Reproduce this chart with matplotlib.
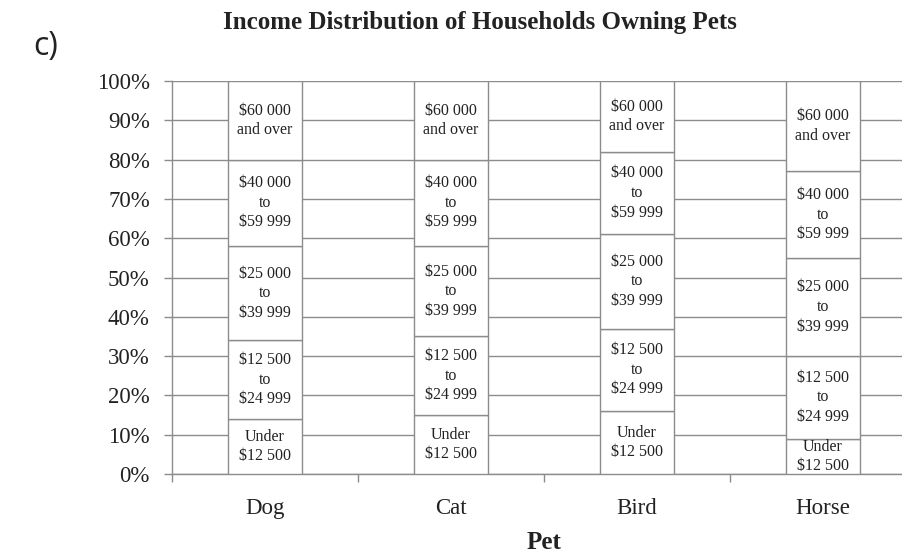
import numpy as np
import matplotlib
matplotlib.use('Agg')
import matplotlib.pyplot as plt

pets = ['Dog', 'Cat', 'Bird', 'Horse']
brackets = ['Under\n$12 500', '$12 500\nto\n$24 999', '$25 000\nto\n$39 999',
            '$40 000\nto\n$59 999', '$60 000\nand over']
# percent of households in each income bracket (bottom to top)
under_12500 = [14, 15, 16, 9]
from_12500 = [20, 20, 21, 21]
from_25000 = [24, 23, 24, 25]
from_40000 = [22, 22, 21, 22]
over_60000 = [20, 20, 18, 23]
series = [under_12500, from_12500, from_25000, from_40000, over_60000]
yticks = [0, 10, 20, 30, 40, 50, 60, 70, 80, 90, 100]

plt.rcParams['font.family'] = ['Liberation Serif', 'DejaVu Serif']
grey = '#8c8c8c'
txt = '#222222'

fig = plt.figure(figsize=(9.03, 5.59), dpi=100)
ax = fig.add_axes([172 / 903, 1 - 474 / 559, 744 / 903, 393 / 559])

x = np.arange(len(pets)) + 0.5
bottom = np.zeros(len(pets))
for vals, lab in zip(series, brackets):
    vals = np.array(vals, dtype=float)
    ax.bar(x, vals, bottom=bottom, width=0.40, color='white',
           edgecolor=grey, linewidth=1.0, zorder=3)
    for xi, b, v in zip(x, bottom, vals):
        ax.text(xi, b + v / 2, lab, ha='center', va='center', fontsize=11.5,
                color=txt, linespacing=1.3, zorder=4)
    bottom += vals

ax.set_xlim(0, len(pets))
ax.set_ylim(0, 100)
ax.set_yticks(yticks)
ax.set_yticklabels([f'{t}%' for t in yticks], fontsize=16.5, color=txt)
ax.yaxis.grid(True, color=grey, linewidth=1.0, zorder=0)
ax.set_axisbelow(True)

ax.set_xticks(np.arange(len(pets) + 1))
ax.set_xticklabels([])
ax.set_xticks(x, minor=True)
ax.set_xticklabels(pets, minor=True, fontsize=16.5, color=txt)
ax.tick_params(axis='x', which='minor', length=0, pad=17)
ax.tick_params(axis='x', which='major', length=6, color=grey, width=1.0)
ax.tick_params(axis='y', length=6, color=grey, width=1.0, pad=10)

for s in ['top', 'right']:
    ax.spines[s].set_visible(False)
for s in ['left', 'bottom']:
    ax.spines[s].set_color(grey)
    ax.spines[s].set_linewidth(1.0)

ax.set_xlabel('Pet', fontsize=18, fontweight='bold', color=txt, labelpad=9)
fig.text(480 / 903, 1 - 22 / 559, 'Income Distribution of Households Owning Pets',
         ha='center', va='center', fontsize=18, fontweight='bold', color=txt)
fig.text(33 / 903, 1 - 46 / 559, 'c)', ha='left', va='center', fontsize=23,
         family='Open Sans', color=txt)

fig.savefig('out.png', dpi=100)
